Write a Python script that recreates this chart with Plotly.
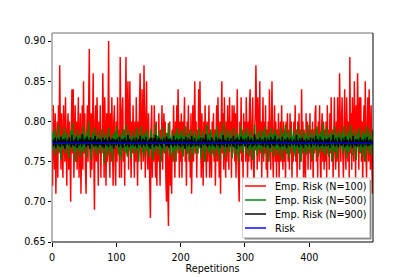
import plotly.graph_objects as go

# Empirical risk, N=100 (in percent)
RED = [
77,72,82,78,74,81,71,77,80,73,82,76,87,79,74,81,76,73,82,77,75,83,76,72,79,
81,74,80,77,70,79,84,76,84,73,78,82,75,80,74,77,83,73,79,81,71,78,82,74,85,
76,81,74,71,79,82,75,83,89,76,73,81,74,79,86,76,69,80,82,75,83,77,72,80,76,
82,73,79,76,86,78,73,83,77,72,81,75,79,90,76,73,81,75,83,78,72,80,82,75,72,
80,75,83,76,79,73,88,77,73,81,83,75,79,72,81,88,76,80,85,74,78,85,77,73,80,
76,82,74,73,80,75,83,77,72,80,76,82,86,76,74,84,77,75,87,79,73,80,85,76,74,
81,77,74,68,79,82,73,78,75,82,77,73,80,72,78,75,81,77,72,79,76,82,74,78,81,
76,80,73,70,78,74,67,77,80,72,76,71,79,75,82,77,73,80,75,82,77,84,76,73,80,
75,81,73,80,76,79,83,75,78,72,80,76,82,75,79,73,81,71,77,82,75,79,85,76,80,
73,79,76,84,77,85,78,73,81,76,72,80,75,82,77,73,80,75,78,82,73,79,76,73,80,
76,81,75,79,72,78,82,75,83,77,73,80,71,79,85,76,81,74,83,77,73,80,75,82,78,
74,83,77,80,73,82,76,80,82,75,81,73,78,84,76,74,70,80,76,83,75,79,73,81,77,
80,75,83,76,73,80,75,82,84,76,74,80,83,75,72,79,81,87,76,74,83,78,75,85,76,
80,73,78,83,75,80,76,82,74,79,72,80,75,84,77,74,80,85,76,73,79,82,75,80,73,
79,75,81,73,77,80,75,82,76,74,80,75,79,72,80,76,81,75,79,74,81,76,80,73,78,
75,80,76,82,75,79,73,80,76,81,74,79,75,84,76,80,73,79,75,72,81,76,80,74,79,
76,81,74,79,75,80,72,79,76,81,82,75,79,73,80,76,82,75,72,79,81,75,80,74,79,
75,80,73,82,76,79,74,81,76,83,75,79,73,80,83,76,74,80,75,83,76,73,86,77,75,
80,83,76,73,79,84,76,74,83,77,75,80,73,88,76,81,74,83,77,75,85,76,73,82,77,
86,76,74,83,76,83,75,80,72,79,82,75,85,76,73,80,83,75,84,77,74,82,76,71,79,
]

# Empirical risk, N=500 (in thousandths)
GREEN = [
772,786,764,778,790,770,758,776,782,768,796,774,762,780,752,776,784,770,766,792,774,760,778,786,768,
776,754,780,770,788,766,778,798,772,762,784,774,750,780,768,790,776,764,782,756,774,786,770,762,794,
778,766,782,756,774,788,770,800,776,764,780,752,772,786,768,778,792,764,774,758,782,770,788,766,776,
760,780,772,790,766,776,748,782,770,786,764,778,756,774,792,768,780,762,776,750,784,772,766,788,774,
770,794,766,780,758,776,784,770,752,778,790,768,782,762,774,796,770,756,780,772,788,764,776,754,782,
774,766,788,772,760,780,770,792,764,776,750,784,772,768,794,776,762,782,756,774,786,770,764,790,778,
768,756,780,774,790,766,778,752,784,770,764,796,776,768,782,758,774,788,766,780,750,776,770,792,764,
780,772,760,786,770,776,798,764,782,756,774,770,788,762,778,750,784,772,766,792,776,760,782,770,786,
764,778,790,770,756,782,774,766,794,772,760,780,768,786,752,776,770,790,764,782,758,774,788,768,780,
772,760,784,776,792,766,778,754,782,770,788,764,776,750,780,774,796,768,762,784,772,758,790,776,766,
780,770,756,786,774,764,794,772,782,760,776,752,788,770,766,784,774,798,762,778,756,782,770,790,768,
776,762,788,770,782,754,778,772,792,766,780,758,774,786,770,750,784,776,764,794,772,782,760,778,788,
770,784,760,776,792,768,780,756,774,788,766,782,752,778,770,796,764,780,772,758,786,774,766,790,776,
762,780,772,788,756,776,770,794,766,782,774,750,786,770,780,762,792,774,768,784,756,778,790,770,764,
784,770,758,780,774,792,766,778,752,786,772,764,782,796,770,760,778,788,774,754,780,768,792,776,762,
778,788,770,756,782,774,766,794,772,760,784,776,750,780,790,768,776,762,786,772,758,782,770,796,766,
774,760,786,772,780,752,776,790,768,782,764,778,794,770,756,784,774,766,788,776,762,780,798,770,758,
782,770,792,766,776,756,784,772,764,788,778,750,780,770,794,762,776,786,768,754,782,774,790,766,778,
770,786,760,778,794,772,764,782,754,776,788,770,762,780,796,768,776,758,784,772,790,766,780,752,774,
786,768,776,792,762,780,772,756,788,774,766,784,750,778,794,770,782,760,776,790,768,774,758,786,772,
]

# Empirical risk, N=900 (in thousandths)
BLACK = [
773,778,769,776,771,780,767,775,772,779,770,777,774,768,781,772,776,770,778,773,766,779,771,775,773,
777,770,780,772,775,768,783,771,776,773,769,778,772,781,767,776,774,770,779,772,777,769,784,773,771,
776,772,779,768,775,781,770,777,773,766,780,772,776,771,778,769,775,782,770,774,777,768,779,773,771,
778,771,775,769,780,773,767,777,772,779,770,776,774,768,781,772,777,770,775,779,771,766,778,773,776,
770,779,772,776,768,781,773,775,770,778,767,777,772,780,774,769,776,771,783,773,768,778,772,775,770,
777,772,779,769,775,771,780,767,776,773,778,770,782,772,775,768,779,773,771,777,769,781,772,775,774,
769,778,773,766,780,771,776,772,779,768,775,783,770,777,773,769,780,772,776,770,778,767,775,773,779,
772,776,769,781,773,770,778,767,775,779,771,776,773,768,782,771,777,773,769,779,772,775,770,778,774,
768,780,772,775,770,778,773,766,781,772,776,769,779,773,771,777,768,782,774,770,776,772,779,769,775,
773,771,778,769,776,772,780,767,775,773,779,770,777,772,784,770,775,768,778,773,771,776,769,780,772,
777,770,775,773,768,781,772,776,770,779,774,767,778,772,775,770,783,773,769,777,772,776,768,780,773,
771,776,769,779,773,775,770,782,768,776,772,778,766,780,773,771,777,769,775,781,770,774,778,772,776,
769,779,772,775,767,781,773,770,777,772,779,768,776,773,770,784,772,775,769,778,771,776,773,780,770,
775,771,778,769,776,773,780,768,774,772,779,770,777,773,767,781,772,776,770,778,773,769,782,771,775,
772,777,770,779,773,768,776,772,781,769,775,773,778,770,776,767,780,773,771,777,769,779,772,775,773,
770,778,772,775,769,783,771,776,773,768,779,772,776,770,780,773,767,777,772,775,771,779,769,776,774,
777,771,780,768,775,773,779,770,776,772,782,769,774,778,771,776,768,781,773,770,777,772,775,769,779,
772,776,769,778,773,771,780,767,775,773,777,770,783,772,776,769,779,773,771,775,768,780,772,777,770,
775,770,779,772,776,768,781,773,770,777,772,775,769,779,773,771,776,767,782,772,775,770,778,773,769,
778,772,775,769,780,773,771,777,768,776,773,779,770,775,772,781,769,776,773,770,778,772,775,771,776,
]

RISK = 0.773
N_REPS = 500
Y_TICKS = [0.65, 0.70, 0.75, 0.80, 0.85, 0.90]
X_TICKS = [0, 100, 200, 300, 400]
SERIES_NAMES = ["Emp. Risk (N=100)", "Emp. Risk (N=500)", "Emp. Risk (N=900)", "Risk"]
SERIES_COLORS = ["#ff0000", "#008000", "#000000", "#0000ff"]

reps = list(range(N_REPS))
red = [v / 100 for v in RED]
green = [v / 1000 for v in GREEN]
black = [v / 1000 for v in BLACK]

LW = 1.45
fig = go.Figure()
fig.add_trace(go.Scatter(x=reps, y=red, mode="lines", name=SERIES_NAMES[0],
                         line=dict(color=SERIES_COLORS[0], width=LW)))
fig.add_trace(go.Scatter(x=reps, y=green, mode="lines", name=SERIES_NAMES[1],
                         line=dict(color=SERIES_COLORS[1], width=LW)))
fig.add_trace(go.Scatter(x=reps, y=black, mode="lines", name=SERIES_NAMES[2],
                         line=dict(color=SERIES_COLORS[2], width=LW)))
fig.add_trace(go.Scatter(x=[0, N_REPS - 1], y=[RISK, RISK], mode="lines", name=SERIES_NAMES[3],
                         line=dict(color=SERIES_COLORS[3], width=LW)))

FS = 9.6
font = dict(family="DejaVu Sans", size=FS, color="black")

# plot area in pixels
L, R, T, B = 52, 373, 33, 242
W, H = 415, 277
def px(x):
    return (x - L) / (R - L)
def py(y):
    return (B - y) / (B - T)

fig.update_layout(
    width=W, height=H,
    margin=dict(l=L, r=W - R, t=T, b=H - B, pad=0, autoexpand=False),
    paper_bgcolor="white", plot_bgcolor="white",
    font=font,
    showlegend=False,
)
fig.update_xaxes(range=[0, N_REPS - 1], tickvals=X_TICKS, ticks="outside", ticklen=3.5,
                 tickcolor="black", tickfont=font, ticklabelstandoff=3, automargin=False,
                 showgrid=False, zeroline=False,
                 showline=False, title=dict(text="Repetitions", standoff=1, font=font))
fig.update_yaxes(range=[0.65, 0.91], tickvals=Y_TICKS, tickformat=".2f", ticks="outside",
                 ticklen=3.5, tickcolor="black", tickfont=font, automargin=False,
                 showgrid=False, zeroline=False, showline=False)

# axes frame
for x0, y0, x1, y1, col in [(0, 0, 0, 1, "#707070"), (0, 1, 1, 1, "#707070"),
                             (1, 0, 1, 1, "black"), (0, 0, 1, 0, "black")]:
    fig.add_shape(type="line", xref="paper", yref="paper", x0=x0, y0=y0, x1=x1, y1=y1,
                  line=dict(color=col, width=1))

# legend box (drawn manually to match compact matplotlib legend)
bx0, by0, bx1, by1 = 242.5, 178, 369.5, 237.5
fig.add_shape(type="rect", xref="paper", yref="paper",
              x0=px(bx0 + 2), x1=px(bx1 + 2), y0=py(by0 + 2), y1=py(by1 + 2),
              fillcolor="#8c8c8c", line=dict(width=0))
fig.add_shape(type="rect", xref="paper", yref="paper",
              x0=px(bx0), x1=px(bx1), y0=py(by0), y1=py(by1),
              fillcolor="white", line=dict(color="#d0d0d0", width=1))
row_y = [186, 200, 214, 228]
for name, col, ry in zip(SERIES_NAMES, SERIES_COLORS, row_y):
    fig.add_shape(type="line", xref="paper", yref="paper",
                  x0=px(245), x1=px(266), y0=py(ry), y1=py(ry),
                  line=dict(color=col, width=LW))
    fig.add_annotation(xref="paper", yref="paper", x=px(273), y=py(ry),
                       xanchor="left", yanchor="middle", text=name, showarrow=False,
                       font=font)

fig.write_html("out.html", post_script="document.body.style.margin='0';",
               config={"displayModeBar": False})
